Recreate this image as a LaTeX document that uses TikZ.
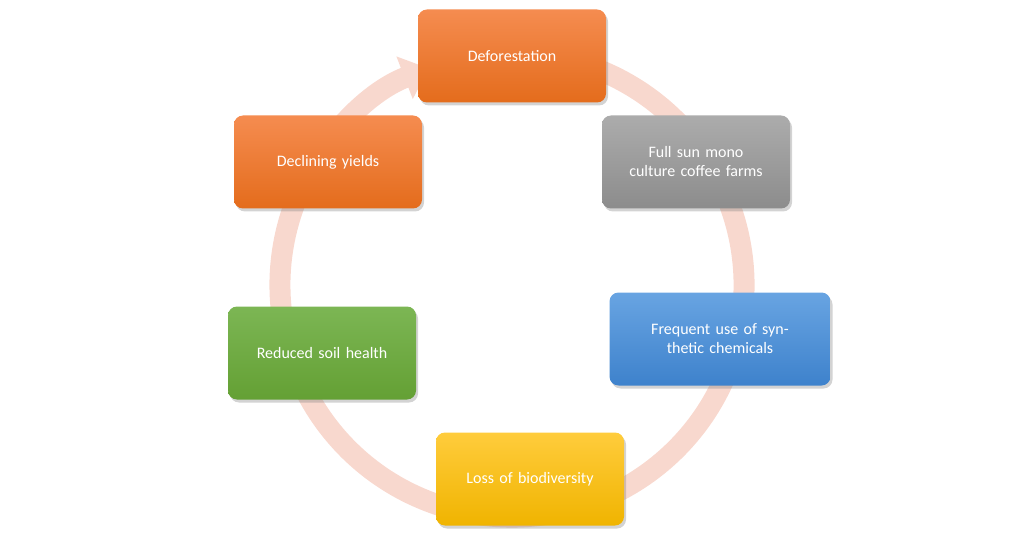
\documentclass[tikz,border=0pt]{standalone}
\usepackage{fontspec}
\setmainfont{Carlito}
\usetikzlibrary{arrows.meta,shadows,positioning}
\definecolor{ringpink}{RGB}{248,216,206}
\definecolor{oranget}{RGB}{245,140,80}
\definecolor{orangeb}{RGB}{228,108,28}
\definecolor{grayt}{RGB}{172,172,172}
\definecolor{grayb}{RGB}{140,140,140}
\definecolor{bluet}{RGB}{104,164,226}
\definecolor{blueb}{RGB}{62,130,204}
\definecolor{yellowt}{RGB}{255,204,60}
\definecolor{yellowb}{RGB}{240,180,0}
\definecolor{greent}{RGB}{124,182,84}
\definecolor{greenb}{RGB}{100,160,52}

\tikzset{
  stagebox/.style={rounded corners=9pt,minimum width=188pt,minimum height=93pt,
    text width=176pt,align=center,text=white,font=\fontsize{16pt}{19pt}\selectfont,
    drop shadow={shadow xshift=2pt,shadow yshift=-3pt,opacity=0.35}},
  orangebox/.style={stagebox,top color=oranget,bottom color=orangeb},
  graybox/.style={stagebox,top color=grayt,bottom color=grayb},
  bluebox/.style={stagebox,top color=bluet,bottom color=blueb},
  yellowbox/.style={stagebox,top color=yellowt,bottom color=yellowb},
  greenbox/.style={stagebox,top color=greent,bottom color=greenb}
}

\begin{document}
\begin{tikzpicture}[x=1pt,y=1pt]
\useasboundingbox (0,0) rectangle (1024,544);

% Ring
\draw[ringpink,line width=21pt,-{Triangle[width=44pt,length=26pt]}]
  (512,259) ++(70:232) arc[start angle=70,end angle=-249,radius=232];

% Stages
\node[orangebox] (defor) at (512,488) {Deforestation};
\node[graybox] (fullsun) at (696,382) {Full sun mono\\culture coffee farms};
\node[bluebox,minimum width=221pt,text width=212pt] (chem) at (720,205) {Frequent use of synthetic chemicals};
\node[yellowbox] (biodiv) at (530,65) {Loss of biodiversity};
\node[greenbox] (soil) at (322,191) {Reduced soil health};
\node[orangebox] (yield) at (328,382) {Declining yields};
\end{tikzpicture}
\end{document}
